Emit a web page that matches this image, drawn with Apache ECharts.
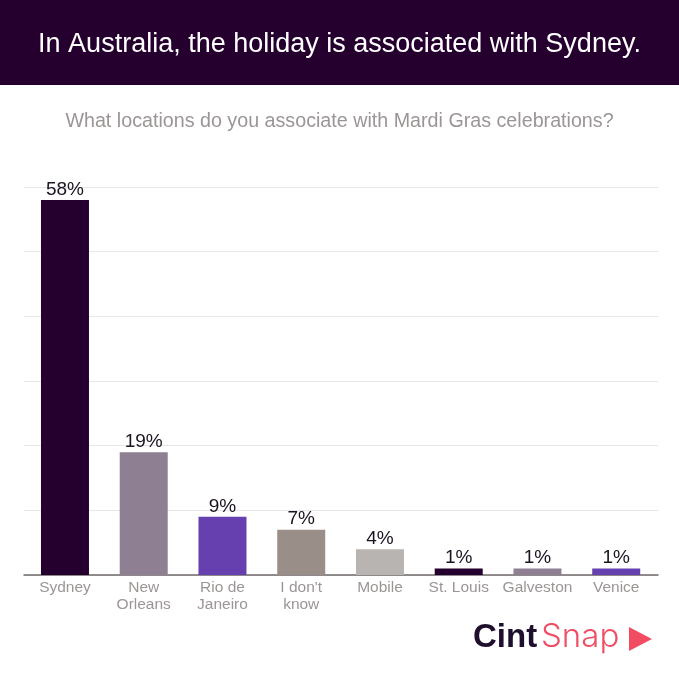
<!DOCTYPE html>
<html><head><meta charset="utf-8">
<style>html,body{margin:0;padding:0;background:#fff}#c{width:679px;height:680px}</style>
<script src="https://cdn.jsdelivr.net/npm/echarts@6/dist/echarts.min.js"></script>
</head><body><div id="c"></div>
<script>
const categories=["Sydney","New\nOrleans","Rio de\nJaneiro","I don't\nknow","Mobile","St. Louis","Galveston","Venice"];
const values=[58,19,9,7,4,1,1,1];
const colors=["#25002e","#8f7f93","#6640ae","#9a8f88","#b8b4b2","#25002e","#8f7f93","#6640ae"];
const headline="In Australia, the holiday is associated with Sydney.";
const question="What locations do you associate with Mardi Gras celebrations?";
const font="Liberation Sans";
const chart=echarts.init(document.getElementById('c'),null,{renderer:'canvas'});
const gridTop=187,gridBottom=105;
chart.setOption({
  animation:false,
  backgroundColor:'#fff',
  grid:[{left:24,right:21,top:gridTop,bottom:gridBottom},{left:25.6,right:23.4,top:gridTop,bottom:gridBottom}],
  xAxis:[
    {gridIndex:0,type:'category',data:[''],axisLine:{lineStyle:{color:'#6f6a6a',width:1.5}},axisTick:{show:false},axisLabel:{show:false}},
    {gridIndex:1,type:'category',data:categories,axisLine:{show:false},axisTick:{show:false},
     axisLabel:{color:'#9b9695',fontFamily:font,fontSize:15.5,lineHeight:17,margin:4,interval:0}}],
  yAxis:[
    {gridIndex:0,type:'value',min:0,max:60,interval:10,axisLine:{show:false},axisTick:{show:false},axisLabel:{show:false},
     splitLine:{lineStyle:{color:'#e8e6e8',width:1}}},
    {gridIndex:1,type:'value',min:0,max:60,interval:10,axisLine:{show:false},axisTick:{show:false},axisLabel:{show:false},splitLine:{show:false}}],
  series:[{type:'bar',xAxisIndex:1,yAxisIndex:1,barWidth:48,
    data:values.map((v,i)=>({value:v,itemStyle:{color:colors[i]}})),
    label:{show:true,position:'top',distance:1,formatter:'{c}%',color:'#1b1320',fontFamily:font,fontSize:19}}],
  graphic:[
    {type:'rect',z:-1,shape:{x:0,y:0,width:679,height:85},style:{fill:'#25002e'}},
    {type:'text',x:339.5,y:45,style:{text:headline,fill:'#fff',font:'400 27px '+font,textAlign:'center',textVerticalAlign:'middle'}},
    {type:'text',x:339.5,y:122,style:{text:question,fill:'#9b9695',font:'400 19.7px '+font,textAlign:'center',textVerticalAlign:'middle'}},
    {type:'text',x:473,y:637.5,style:{text:'Cint',fill:'#1f0f2e',font:'700 33px '+font,textAlign:'left',textVerticalAlign:'middle'}},
    {type:'text',x:541,y:637.5,style:{text:'Snap',fill:'#ee4f66',font:'300 33px Inter',textAlign:'left',textVerticalAlign:'middle'}},
    {type:'polygon',shape:{points:[[629,627],[652,639],[629,651]]},style:{fill:'#f24c62'}}
  ]
});
</script></body></html>
